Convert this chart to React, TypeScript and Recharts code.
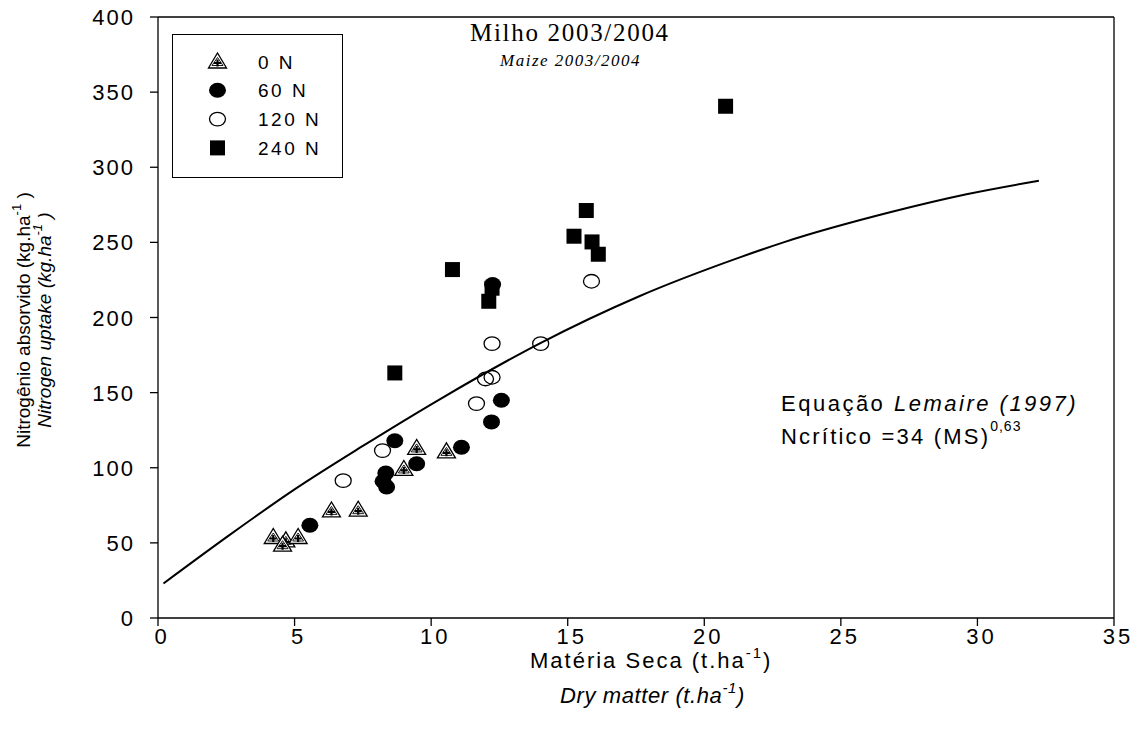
import React from 'react';
import { ScatterChart, Scatter, XAxis, YAxis, ReferenceLine } from 'recharts';

const xTicks = [0, 5, 10, 15, 20, 25, 30, 35];
const yTicks = [0, 50, 100, 150, 200, 250, 300, 350, 400];

// Nitrogen uptake (kg/ha) vs dry matter (t/ha) for each N dose
const dose0N = [
  { x: 4.22, y: 53.9 },
  { x: 4.68, y: 51.7 },
  { x: 5.13, y: 53.9 },
  { x: 4.56, y: 48.8 },
  { x: 6.35, y: 71.6 },
  { x: 7.33, y: 72.1 },
  { x: 9.0, y: 99.2 },
  { x: 9.47, y: 113.2 },
  { x: 10.56, y: 110.9 },
];

const dose60N = [
  { x: 5.56, y: 61.7 },
  { x: 8.67, y: 118.0 },
  { x: 8.34, y: 96.5 },
  { x: 8.24, y: 91.0 },
  { x: 8.37, y: 87.2 },
  { x: 9.47, y: 102.7 },
  { x: 11.11, y: 113.6 },
  { x: 12.21, y: 130.5 },
  { x: 12.57, y: 144.9 },
  { x: 12.25, y: 222.0 },
];

const dose120N = [
  { x: 6.78, y: 91.4 },
  { x: 8.22, y: 111.4 },
  { x: 11.66, y: 142.7 },
  { x: 11.99, y: 159.1 },
  { x: 12.23, y: 160.2 },
  { x: 12.23, y: 182.6 },
  { x: 14.01, y: 182.6 },
  { x: 15.87, y: 224.1 },
];

const dose240N = [
  { x: 8.67, y: 163.1 },
  { x: 10.78, y: 231.9 },
  { x: 12.11, y: 210.8 },
  { x: 12.23, y: 219.5 },
  { x: 15.68, y: 271.2 },
  { x: 15.23, y: 254.1 },
  { x: 15.89, y: 250.3 },
  { x: 16.12, y: 242.1 },
  { x: 20.78, y: 340.6 },
];

// critical N curve (Lemaire 1997)
const criticalCurve = [
  { x: 0.2, y: 23 },
  { x: 2.6, y: 55 },
  { x: 5.0, y: 85.6 },
  { x: 7.5, y: 114.5 },
  { x: 10.3, y: 145.4 },
  { x: 14.0, y: 183 },
  { x: 17.6, y: 214 },
  { x: 21.3, y: 240 },
  { x: 22.9, y: 250 },
  { x: 26.8, y: 270 },
  { x: 29.6, y: 282 },
  { x: 32.25, y: 291 },
];

const seriesNames = ['0 N', '60 N', '120 N', '240 N'];

const SANS = '"Liberation Sans", Arial, sans-serif';
const SERIF = '"Liberation Serif", "Times New Roman", serif';

const Triangle = ({ cx, cy }: any) => (
  <g>
    <path
      d={`M${cx - 9},${cy + 6.5}L${cx + 9},${cy + 6.5}L${cx},${cy - 8.5}Z`}
      fill="#fff"
      stroke="#000"
      strokeWidth={1.3}
    />
    <path
      d={`M${cx - 5.5},${cy + 4}L${cx + 5.5},${cy + 4}L${cx},${cy - 4}Z`}
      fill="none"
      stroke="#000"
      strokeWidth={0.9}
    />
    <path
      d={`M${cx - 3.5},${cy + 1.5}H${cx + 3.5}M${cx},${cy - 2}V${cy + 5}`}
      stroke="#000"
      strokeWidth={2.2}
    />
  </g>
);

const FilledDot = ({ cx, cy }: any) => <ellipse cx={cx} cy={cy} rx={8.5} ry={7.5} fill="#000" />;

const OpenDot = ({ cx, cy }: any) => (
  <ellipse cx={cx} cy={cy} rx={8} ry={6.8} fill="none" stroke="#000" strokeWidth={1.3} />
);

const Square = ({ cx, cy }: any) => <rect x={cx - 7.5} y={cy - 7.5} width={15} height={15} fill="#000" />;

const NoMark = () => <g />;

const markers = [Triangle, FilledDot, OpenDot, Square];

const LegendBox = () => (
  <g transform="translate(172,34)">
    <rect x={0.5} y={0.5} width={170} height={143} fill="#fff" stroke="#000" strokeWidth={1} />
    {seriesNames.map((name, i) => {
      const Mark = markers[i];
      const cy = 27.5 + i * 28.8;
      return (
        <g key={name}>
          <Mark cx={45.5} cy={cy} />
          <text x={86} y={cy + 7} fontFamily={SANS} fontSize={19} letterSpacing={2.5} fill="#000">
            {name}
          </text>
        </g>
      );
    })}
  </g>
);

const XTick = ({ x, y, payload }: any) => (
  <text
    x={x + 4}
    y={y}
    dy={18}
    textAnchor="middle"
    fontFamily={SANS}
    fontSize={22}
    letterSpacing={3}
    fill="#000"
  >
    {payload.value}
  </text>
);

const YTick = ({ x, y, payload }: any) => (
  <text
    x={x}
    y={y}
    dy={8}
    textAnchor="end"
    fontFamily={SANS}
    fontSize={22}
    letterSpacing={2}
    fill="#000"
  >
    {payload.value}
  </text>
);

export default function App() {
  return (
    <div style={{ position: 'absolute', left: 0, top: 0, width: 1133, height: 733, background: '#fff', overflow: 'hidden' }}>
      <ScatterChart width={1133} height={733} margin={{ top: 17, right: 19, bottom: 0, left: 0 }}>
        <XAxis
          type="number"
          dataKey="x"
          domain={[0, 35]}
          ticks={xTicks}
          height={115}
          tickSize={8}
          tickMargin={0}
          tick={<XTick />}
          axisLine={{ stroke: '#000', strokeWidth: 1.3 }}
          tickLine={{ stroke: '#000', strokeWidth: 1.3 }}
          allowDataOverflow
        />
        <YAxis
          type="number"
          dataKey="y"
          domain={[0, 400]}
          ticks={yTicks}
          width={158}
          tickSize={8}
          tickMargin={15}
          tick={<YTick />}
          axisLine={{ stroke: '#000', strokeWidth: 1.3 }}
          tickLine={{ stroke: '#000', strokeWidth: 1.3 }}
          allowDataOverflow
        />
        <ReferenceLine y={400} stroke="#000" strokeWidth={1.3} />
        <ReferenceLine x={35} stroke="#000" strokeWidth={1.3} />
        <Scatter
          name="Ncrítico"
          data={criticalCurve}
          line={{ stroke: '#000', strokeWidth: 2 }}
          lineJointType="monotoneX"
          shape={<NoMark />}
          legendType="none"
          isAnimationActive={false}
        />
        <Scatter name="0 N" data={dose0N} shape={<Triangle />} isAnimationActive={false} />
        <Scatter name="60 N" data={dose60N} shape={<FilledDot />} isAnimationActive={false} />
        <Scatter name="120 N" data={dose120N} shape={<OpenDot />} isAnimationActive={false} />
        <Scatter name="240 N" data={dose240N} shape={<Square />} isAnimationActive={false} />
      </ScatterChart>

      <svg
        width={1133}
        height={733}
        style={{ position: 'absolute', left: 0, top: 0, pointerEvents: 'none' }}
      >
        <LegendBox />

        <text x={470} y={41} fontFamily={SERIF} fontSize={25} letterSpacing={1.7} fill="#000">
          Milho 2003/2004
        </text>
        <text x={500} y={66} fontFamily={SERIF} fontSize={17} fontStyle="italic" letterSpacing={1.5} fill="#000">
          Maize 2003/2004
        </text>

        <text x={781} y={411} fontFamily={SANS} fontSize={22} letterSpacing={2.5} fill="#000">
          Equação <tspan fontStyle="italic">Lemaire (1997)</tspan>
        </text>
        <text x={781} y={444} fontFamily={SANS} fontSize={22} letterSpacing={2.2} fill="#000">
          Ncrítico =34 (MS)
          <tspan fontSize={14} dy={-13} letterSpacing={1}>0,63</tspan>
        </text>

        <text x={530} y={668} fontFamily={SANS} fontSize={22} letterSpacing={2} fill="#000">
          Matéria Seca (t.ha
          <tspan fontSize={15} dy={-10}>-1</tspan>
          <tspan dy={10}>)</tspan>
        </text>
        <text x={560} y={703} fontFamily={SANS} fontSize={22} fontStyle="italic" letterSpacing={0.6} fill="#000">
          Dry matter (t.ha
          <tspan fontSize={15} dy={-10}>-1</tspan>
          <tspan dy={10}>)</tspan>
        </text>

        <text
          transform="translate(30,320) rotate(-90)"
          textAnchor="middle"
          fontFamily={SANS}
          fontSize={19}
          fill="#000"
        >
          Nitrogênio absorvido (kg.ha
          <tspan fontSize={13} dy={-9}>-1</tspan>
          <tspan dy={9}> )</tspan>
        </text>
        <text
          transform="translate(51,320) rotate(-90)"
          textAnchor="middle"
          fontFamily={SANS}
          fontSize={19}
          fontStyle="italic"
          fill="#000"
        >
          Nitrogen uptake (kg.ha
          <tspan fontSize={13} dy={-9}>-1</tspan>
          <tspan dy={9}> )</tspan>
        </text>
      </svg>
    </div>
  );
}
